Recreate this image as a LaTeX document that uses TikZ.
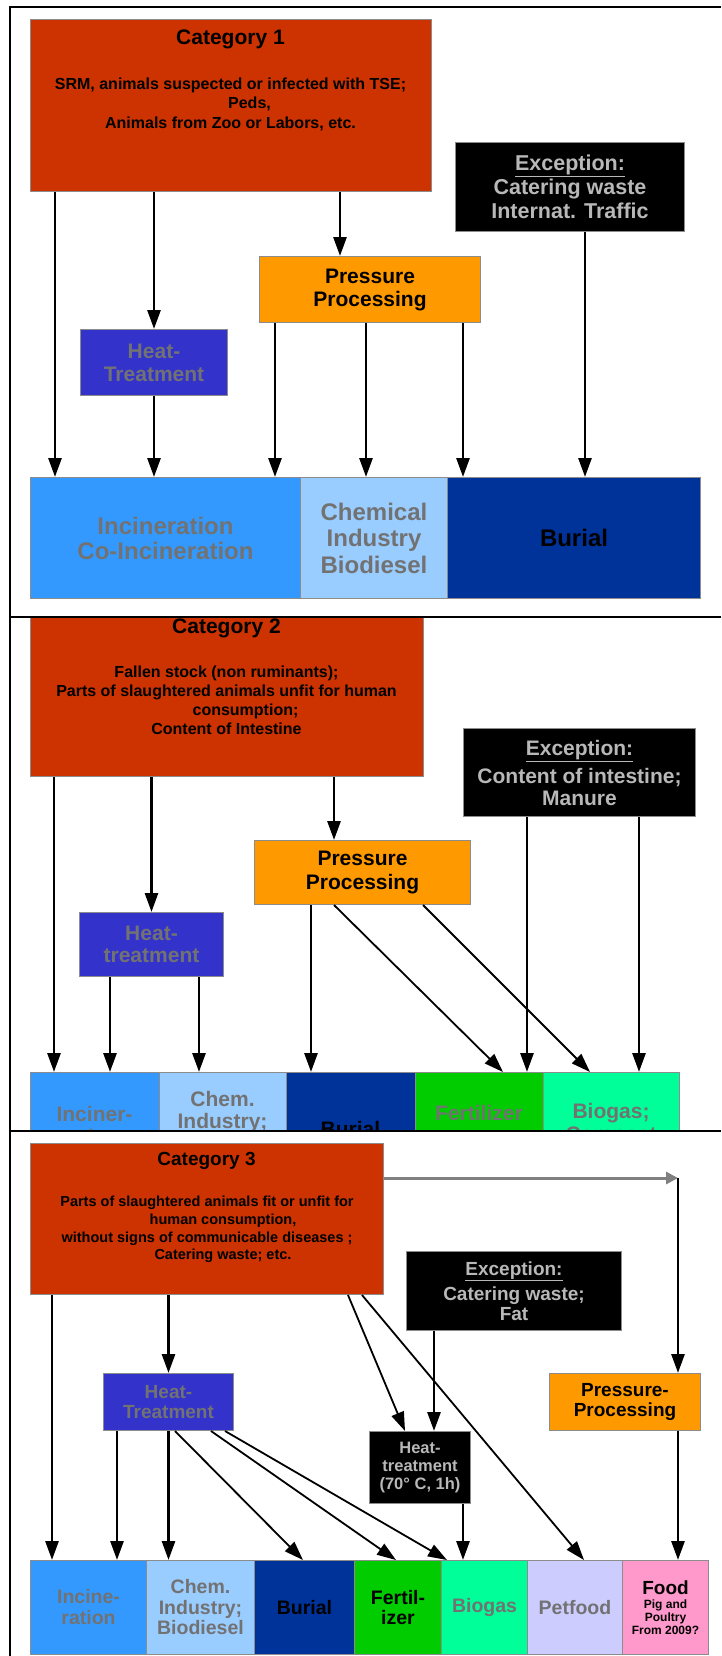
\documentclass[tikz,border=0pt]{standalone}
\usepackage{fontspec}
\setmainfont{Liberation Sans}
\usetikzlibrary{arrows.meta}
\definecolor{catred}{HTML}{CC3300}
\definecolor{ppor}{HTML}{FF9900}
\definecolor{htblue}{HTML}{3333CC}
\definecolor{incblue}{HTML}{3399FF}
\definecolor{chemblue}{HTML}{99CCFF}
\definecolor{burblue}{HTML}{003399}
\definecolor{fergreen}{HTML}{00CC00}
\definecolor{biogreen}{HTML}{00FF99}
\definecolor{petlil}{HTML}{CCCCFF}
\definecolor{foodpink}{HTML}{FF99CC}
\definecolor{txtgray}{HTML}{727272}
\definecolor{exgray}{HTML}{B8B8B8}
\definecolor{bordergray}{HTML}{8C8C8C}
\definecolor{arrgray}{HTML}{808080}
\newcommand\myfs[2]{\fontsize{#1}{#2}\selectfont}
\tikzset{
  bx/.style={draw=bordergray, line width=1pt, inner sep=0pt, anchor=north west, align=center},
  arr/.style={-{Triangle[width=13pt,length=19pt]}, line width=2.8pt},
  thinarr/.style={-{Triangle[width=13pt,length=19pt]}, line width=1.8pt},
  framel/.style={line width=2pt},
  cattxt/.style={align=center, text=black},
}
\begin{document}
\begin{tikzpicture}[x=1pt,y=-1pt]
\useasboundingbox (0,0) rectangle (721,1656);
\fill[white] (0,0) rectangle (721,1656);

% ================= Panel 1 =================
\node[bx, fill=catred, minimum width=401, minimum height=172] (c1) at (30,19) {};
\node[cattxt, font=\bfseries\myfs{21}{23}] (c1t) at (230.5,39) {Category 1};
\node[cattxt, font=\bfseries\myfs{16}{19.5}] (c1b) at (230.5,104)
  {SRM, animals suspected or infected with TSE;\\\hspace*{38pt}Peds,\\Animals from Zoo or Labors, etc.};
\node[bx, fill=black, minimum width=229, minimum height=89, text=exgray, font=\bfseries\myfs{21.5}{24}] (ex1) at (455,142)
  {\underline{Exception:}\\Catering waste\\Internat. Traffic};
\node[bx, fill=ppor, minimum width=221, minimum height=66, font=\bfseries\myfs{21}{23}] (pp1) at (259,256) {Pressure\\Processing};
\node[bx, fill=htblue, minimum width=147, minimum height=66, text=txtgray, font=\bfseries\myfs{21}{23}] (ht1) at (80,329) {Heat-\\Treatment};
\node[bx, fill=incblue, minimum width=270, minimum height=121, text=txtgray, font=\bfseries\myfs{24}{25}] (inc1) at (30,477) {Incineration\\Co-Incineration};
\node[bx, fill=chemblue, minimum width=147, minimum height=121, text=txtgray, font=\bfseries\myfs{24}{26.5}] (chem1) at (300,477) {Chemical\\Industry\\Biodiesel};
\node[bx, fill=burblue, minimum width=253, minimum height=121, text=black, font=\bfseries\myfs{24}{25}] (bur1) at (447,477) {Burial};

\coordinate (p1a) at (55,0);
\coordinate (p1c) at (340,0);
\coordinate (p1d) at (275,0);
\coordinate (p1e) at (366,0);
\coordinate (p1f) at (463,0);
\coordinate (p1g) at (585,0);
\draw[arr] (p1a |- c1.south) -- (p1a |- inc1.north);
\draw[arr] (ht1.north |- c1.south) -- (ht1.north);
\draw[arr] (ht1.south) -- (ht1.south |- inc1.north);
\draw[arr] (p1c |- c1.south) -- (p1c |- pp1.north);
\draw[arr] (p1d |- pp1.south) -- (p1d |- inc1.north);
\draw[arr] (p1e |- pp1.south) -- (p1e |- chem1.north);
\draw[arr] (p1f |- pp1.south) -- (p1f |- bur1.north);
\draw[arr] (p1g |- ex1.south) -- (p1g |- bur1.north);

% ================= Panel 2 =================
\fill[white] (10,617) rectangle (721,1656);
\node[bx, fill=catred, minimum width=393, minimum height=159] (c2) at (30,617) {};
\node[cattxt, font=\bfseries\myfs{21}{23}] (c2t) at (226.5,628) {Category 2};
\node[cattxt, font=\bfseries\myfs{16}{19}] (c2b) at (226.5,700.5)
  {Fallen stock (non ruminants);\\Parts of slaughtered animals unfit for human\\\hspace*{38pt}consumption;\\Content of Intestine};
\node[bx, fill=black, minimum width=232, minimum height=88, text=exgray, font=\bfseries\myfs{21}{22}] (ex2) at (463,728)
  {\underline{Exception:}\\[6pt]Content of intestine;\\Manure};
\node[bx, fill=ppor, minimum width=216, minimum height=64, font=\bfseries\myfs{21}{24}] (pp2) at (254,840) {Pressure\\Processing};
\node[bx, fill=htblue, minimum width=144, minimum height=64, text=txtgray, font=\bfseries\myfs{21}{22}] (ht2) at (79,912) {Heat-\\treatment};

\begin{scope}
\clip (10,617) rectangle (721,1131);
\node[bx, fill=incblue, minimum width=129, minimum height=121] (inc2) at (30,1072) {};
\node[bx, fill=chemblue, minimum width=127, minimum height=121] (chem2) at (159,1072) {};
\node[bx, fill=burblue, minimum width=129, minimum height=121] (bur2) at (286,1072) {};
\node[bx, fill=fergreen, minimum width=128, minimum height=121] (fer2) at (415,1072) {};
\node[bx, fill=biogreen, minimum width=136, minimum height=121] (bio2) at (543,1072) {};
\node[align=center, text=txtgray, font=\bfseries\myfs{21}{23}] (inc2t) at (94.5,1125) {Inciner-\\ation};
\node[align=center, text=txtgray, font=\bfseries\myfs{21}{22}] (chem2t) at (222.5,1112) {Chem.\\Industry;};
\node[align=center, text=black, font=\bfseries\myfs{21}{22}] (bur2t) at (350.5,1129) {Burial};
\node[align=center, text=txtgray, font=\bfseries\myfs{21}{22}] (fer2t) at (479,1113) {Fertilizer};
\node[align=center, text=txtgray, font=\bfseries\myfs{21}{23}] (bio2t) at (611,1125) {Biogas;\\Compost};
\end{scope}

\coordinate (p2a) at (54,0);
\coordinate (p2b) at (110,0);
\coordinate (p2c) at (199,0);
\coordinate (p2d) at (334,0);
\coordinate (p2e) at (311,0);
\coordinate (p2f) at (503,0);
\coordinate (p2g) at (423,0);
\coordinate (p2h) at (590,0);
\coordinate (p2i) at (527,0);
\coordinate (p2j) at (639,0);
\draw[arr] (p2a |- c2.south) -- (p2a |- inc2.north);
\draw[arr] (ht2.north |- c2.south) -- (ht2.north);
\draw[arr] (p2d |- c2.south) -- (p2d |- pp2.north);
\draw[arr] (p2b |- ht2.south) -- (p2b |- inc2.north);
\draw[arr] (p2c |- ht2.south) -- (p2c |- chem2.north);
\draw[arr] (p2e |- pp2.south) -- (p2e |- bur2.north);
\draw[thinarr] (p2d |- pp2.south) -- (p2f |- fer2.north);
\draw[thinarr] (p2g |- pp2.south) -- (p2h |- bio2.north);
\draw[arr] (p2i |- ex2.south) -- (p2i |- fer2.north);
\draw[arr] (p2j |- ex2.south) -- (p2j |- bio2.north);

% ================= Panel 3 =================
\fill[white] (10,1131) rectangle (721,1656);
\node[bx, fill=catred, minimum width=353, minimum height=151] (c3) at (30,1143) {};
\node[cattxt, font=\bfseries\myfs{19}{21}] (c3t) at (206.5,1161) {Category 3};
\node[cattxt, font=\bfseries\myfs{14.5}{17.7}] (c3b) at (207,1229.5)
  {Parts of slaughtered animals fit or unfit for\\\hspace*{32pt}human consumption,\\without signs of communicable diseases ;\\\hspace*{32pt}Catering waste; etc.};
\node[bx, fill=black, minimum width=215, minimum height=79, text=exgray, font=\bfseries\myfs{19}{20}] (ex3) at (406,1251)
  {\underline{Exception:}\\[5pt]Catering waste;\\Fat};
\node[bx, fill=htblue, minimum width=130, minimum height=57, text=txtgray, font=\bfseries\myfs{19}{20.5}] (ht3) at (103,1373) {Heat-\\Treatment};
\node[bx, fill=ppor, minimum width=151, minimum height=57, font=\bfseries\myfs{19}{20.5}] (pp3) at (549,1373) {Pressure-\\Processing};
\node[bx, fill=black, minimum width=101, minimum height=72, text=exgray, font=\bfseries\myfs{16.5}{18}] (ht70) at (369,1431) {Heat-\\treatment\\(70° C, 1h)};

\node[bx, fill=incblue, minimum width=116, minimum height=94, text=txtgray, font=\bfseries\myfs{19.5}{21}] (inc3) at (30,1560) {Incine-\\ration};
\node[bx, fill=chemblue, minimum width=108, minimum height=94, text=txtgray, font=\bfseries\myfs{19.5}{20.5}] (chem3) at (146,1560) {Chem.\\Industry;\\Biodiesel};
\node[bx, fill=burblue, minimum width=100, minimum height=94, text=black, font=\bfseries\myfs{19.5}{21}] (bur3) at (254,1560) {Burial};
\node[bx, fill=fergreen, minimum width=87, minimum height=94, text=black, font=\bfseries\myfs{19.5}{20.5}] (fer3) at (354,1560) {Fertil-\\izer};
\node[bx, fill=biogreen, minimum width=86, minimum height=94, text=txtgray, font=\bfseries\myfs{19.5}{21}] (bio3) at (441,1560) {Biogas};
\node[bx, fill=petlil, minimum width=95, minimum height=94, text=txtgray, font=\bfseries\myfs{19.5}{21}] (pet3) at (527,1560) {Petfood};
\node[bx, fill=foodpink, minimum width=86, minimum height=94, text=black, font=\bfseries\myfs{12}{13}] (food3) at (622,1560)
  {{\myfs{19}{20}Food}\\[1pt]Pig and\\Poultry\\From 2009?};

\coordinate (q1) at (52,0);
\coordinate (q2) at (117,0);
\coordinate (q3) at (175,0);
\coordinate (q4) at (303,0);
\coordinate (q5) at (211,0);
\coordinate (q6) at (396,0);
\coordinate (q7) at (225,0);
\coordinate (q8) at (447,0);
\coordinate (q9) at (348,0);
\coordinate (q10) at (405,0);
\coordinate (q11) at (362,0);
\coordinate (q12) at (584,0);
\coordinate (q13) at (434,0);
\coordinate (q14) at (463,0);
\coordinate (g3) at (678,1178);

\draw[arr] (q1 |- c3.south) -- (q1 |- inc3.north);
\draw[arr] (ht3.north |- c3.south) -- (ht3.north);
\draw[arr] (q2 |- ht3.south) -- (q2 |- inc3.north);
\draw[arr] (ht3.south) -- (ht3.south |- chem3.north);
\draw[thinarr] (q3 |- ht3.south) -- (q4 |- bur3.north);
\draw[thinarr] (q5 |- ht3.south) -- (q6 |- fer3.north);
\draw[thinarr] (q7 |- ht3.south) -- (q8 |- bio3.north);
\draw[thinarr] (q9 |- c3.south) -- (q10 |- ht70.north);
\draw[thinarr] (q11 |- c3.south) -- (q12 |- pet3.north);
\draw[arr] (q13 |- ex3.south) -- (q13 |- ht70.north);
\draw[arr] (q14 |- ht70.south) -- (q14 |- bio3.north);
\draw[line width=3pt, draw=arrgray, -{Triangle[width=12pt,length=12pt]}, arrgray] (c3.east |- g3) -- (g3);
\draw[arr] (g3) -- (g3 |- pp3.north);
\draw[arr] (g3 |- pp3.south) -- (g3 |- food3.north);

% ================= Frames =================
\draw[framel] (10,1656) -- (10,7) -- (721,7);
\draw[framel] (10,617) -- (721,617);
\draw[framel] (10,1131) -- (721,1131);
\end{tikzpicture}
\end{document}
